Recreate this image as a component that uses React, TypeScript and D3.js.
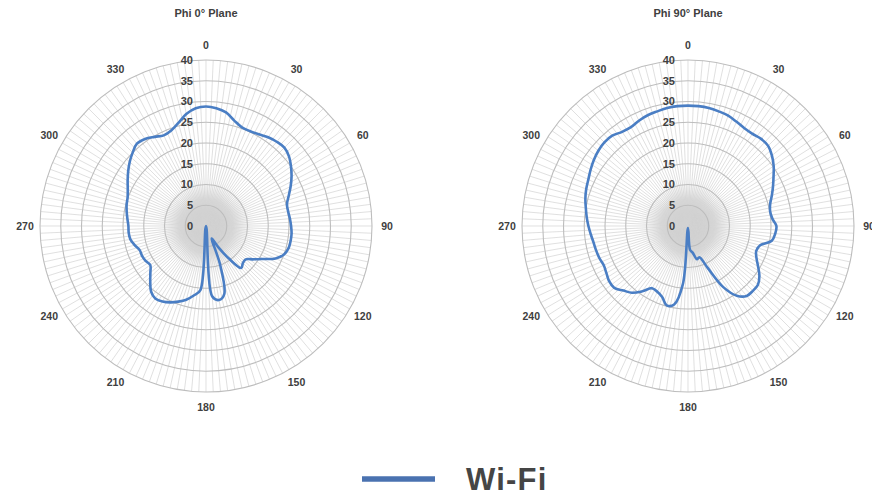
import React from "react";
import * as d3 from "d3";

// Category angles (degrees, clockwise from top), every 5°
const angles: number[] = d3.range(0, 360, 5);

// Phi 0° plane values (radial units 0..40)
const phi0Values: number[] = [
  28.8, 28.5, 27.8, 26.3, 25.3, 25.2, 25.5, 26.1, 26.5, 26.7, 26.1, 25.0, // 0-55
  23.8, 22.5, 21.2, 20.2, 20.1, 20.3, 20.5, 20.7, 20.7, 20.6, 20.0, 18.5, // 60-115
  15.9, 14.0, 12.5, 12.6, 13.2, 9.5, 5.8, 3.3, 10.0, 17.0, 18.1, 17.0,   // 120-175
  0.0, 15.5, 17.0, 18.4, 19.4, 20.3, 21.0, 21.3, 20.6, 19.0, 17.5, 16.4, // 180-235
  16.8, 17.0, 17.0, 17.8, 18.5, 18.7, 18.7, 19.0, 19.4, 19.8, 20.1, 20.8, // 240-295
  21.8, 22.9, 24.0, 25.0, 25.9, 25.6, 24.8, 24.1, 24.5, 25.7, 27.4, 28.5, // 300-355
];

// Phi 90° plane values
const phi90Values: number[] = [
  29.0, 29.0, 28.9, 28.6, 28.3, 27.7, 27.2, 27.1, 27.4, 27.3, 26.4, 25.2, // 0-55
  23.8, 22.6, 21.5, 20.5, 20.1, 20.4, 21.3, 21.1, 20.5, 18.0, 17.5, 18.2, // 60-115
  19.5, 21.0, 22.0, 22.1, 22.0, 20.5, 17.0, 11.0, 8.0, 8.3, 6.5, 5.8,    // 120-175
  0.5, 14.0, 19.2, 19.8, 18.2, 17.5, 17.3, 19.2, 21.0, 22.0, 23.2, 23.2, // 180-235
  22.7, 22.4, 22.7, 22.9, 23.1, 23.5, 24.0, 24.5, 25.0, 25.6, 26.1, 26.5, // 240-295
  27.1, 27.7, 28.2, 28.5, 28.4, 27.7, 27.5, 28.0, 28.4, 28.6, 28.9, 29.0, // 300-355
];

const radialTicks: number[] = [0, 5, 10, 15, 20, 25, 30, 35, 40];
const angleLabels: number[] = [0, 30, 60, 90, 120, 150, 180, 210, 240, 270, 300, 330];
const chartTitles: string[] = ["Phi 0° Plane", "Phi 90° Plane"];
const seriesName = "Wi-Fi";

const W = 872;
const H = 495;
const CY = 226;
const CENTERS = [206, 688];
const R = 166;
const SPOKE_STEP = 2.5;
const LINE_COLOR = "#4a7ec4";
const FONT = "'Liberation Sans', Arial, sans-serif";

const rScale = d3.scaleLinear().domain([0, 40]).range([0, R]);
const aScale = d3.scaleLinear().domain([0, 360]).range([0, 2 * Math.PI]);

function Polar({ cx, values, title, id }: { cx: number; values: number[]; title: string; id: string }) {
  const spokes = d3.range(0, 360, SPOKE_STEP);
  const line = d3
    .lineRadial<number>()
    .angle((_, i) => aScale(angles[i]))
    .radius((d) => rScale(d))
    .curve(d3.curveCatmullRomClosed.alpha(0.5));
  const path = line(values) || "";
  return (
    <g>
      <defs>
        <radialGradient id={id}>
          <stop offset="0%" stopColor="#c2c2c2" />
          <stop offset="55%" stopColor="#dcdcdc" />
          <stop offset="100%" stopColor="#ffffff" stopOpacity={0} />
        </radialGradient>
      </defs>
      <text x={cx} y={17} textAnchor="middle" fontFamily={FONT} fontWeight="bold" fontSize={11} fill="#404040">
        {title}
      </text>
      <g transform={`translate(${cx},${CY})`}>
        <circle r={rScale(12)} fill={`url(#${id})`} />
        {spokes.map((a) => {
          const t = aScale(a);
          return (
            <line
              key={"s" + a}
              x1={0}
              y1={0}
              x2={R * Math.sin(t)}
              y2={-R * Math.cos(t)}
              stroke="#d2d2d2"
              strokeWidth={0.7}
            />
          );
        })}
        {radialTicks.slice(1).map((v) => (
          <circle key={"c" + v} r={rScale(v)} fill="none" stroke="#bdbdbd" strokeWidth={1.1} />
        ))}
        {radialTicks.map((v) => (
          <text
            key={"t" + v}
            x={-13}
            y={-rScale(v)}
            dy="0.35em"
            textAnchor="end"
            fontFamily={FONT}
            fontWeight="bold"
            fontSize={11}
            fill="#404040"
          >
            {v}
          </text>
        ))}
        {angleLabels.map((a) => {
          const t = aScale(a);
          const lr = 181;
          return (
            <text
              key={"a" + a}
              x={lr * Math.sin(t)}
              y={-lr * Math.cos(t)}
              dy="0.35em"
              textAnchor="middle"
              fontFamily={FONT}
              fontWeight="bold"
              fontSize={10.5}
              fill="#404040"
            >
              {a}
            </text>
          );
        })}
        <path d={path} fill="none" stroke={LINE_COLOR} strokeWidth={2.6} strokeLinejoin="round" />
      </g>
    </g>
  );
}

export default function App() {
  return (
    <svg
      width={W}
      height={H}
      viewBox={`0 0 ${W} ${H}`}
      style={{ position: "absolute", left: 0, top: 0, background: "#fff" }}
    >
      <rect width={W} height={H} fill="#fff" />
      <Polar cx={CENTERS[0]} values={phi0Values} title={chartTitles[0]} id="g0" />
      <Polar cx={CENTERS[1]} values={phi90Values} title={chartTitles[1]} id="g1" />
      <line x1={362} x2={435} y1={479} y2={479} stroke="#4a72b0" strokeWidth={5.5} />
      <text x={466} y={490} fontFamily={FONT} fontWeight="bold" fontSize={31} fill="#454545" letterSpacing={1.2}>
        {seriesName}
      </text>
    </svg>
  );
}
